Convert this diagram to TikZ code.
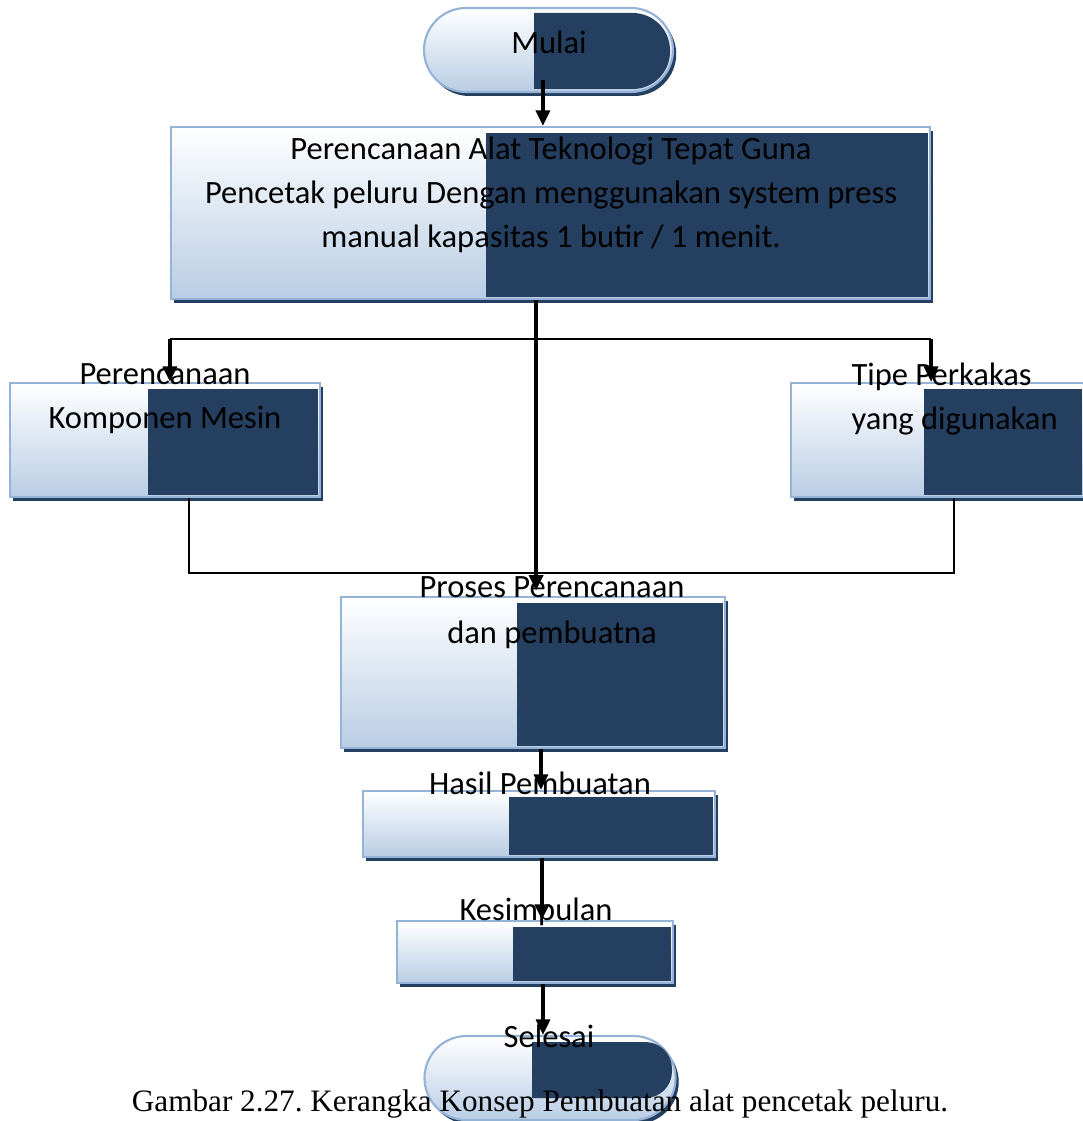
\documentclass[tikz,border=0pt]{standalone}
\usepackage{fontspec}
\setmainfont{Carlito}
\newfontfamily\keterangan{Liberation Serif}
\usetikzlibrary{shapes.misc,shadows,arrows.meta}
\definecolor{garisbiru}{HTML}{95B3D7}
\definecolor{birumuda}{HTML}{B9CDE5}
\definecolor{gelap}{HTML}{243F60}

\begin{document}
\frenchspacing
\begin{tikzpicture}[
	x=0.375pt, y=-0.375pt,
	every node/.style={
		font=\fontsize{12.2}{16.5}\selectfont,
		inner sep=0pt
	},
	ukuran/.style 2 args={minimum width=#1*0.375pt, minimum height=#2*0.375pt},
	kotak/.style={
		draw=garisbiru,
		line width=0.8pt,
		top color=white,
		bottom color=birumuda,
		drop shadow={shadow xshift=1.2pt, shadow yshift=-1.5pt, fill=gelap, opacity=1}
	},
	kapsul/.style={kotak, rounded rectangle},
	tulisan/.style={align=center},
	panah/.style={draw, line width=1.3pt, -{Triangle[length=5.8pt, width=5.2pt]}},
	garis/.style={draw, line width=0.75pt}
]
\useasboundingbox (0,0) rectangle (1082,1121);
\fill[white] (0,0) rectangle (1082,1121);

% kotak-kotak
\node[kapsul, ukuran={249}{84}] (mulai) at (548.5,50) {};
\node[kotak, ukuran={759}{172}] (rencana) at (550.5,213) {};
\node[kotak, ukuran={310}{114}] (komponen) at (165,440) {};
\node[kotak, ukuran={293}{114}] (perkakas) at (937.5,440) {};
\node[kotak, ukuran={384}{151}] (proses) at (533,672.5) {};
\node[kotak, ukuran={352}{66}] (hasil) at (539,824) {};
\node[kotak, ukuran={276}{62}] (simpulan) at (535,952) {};
\node[kapsul, ukuran={251}{84}] (selesai) at (550,1078) {};

% bagian gelap
\begin{scope}
	\clip (534,0) rectangle (700,100);
	\fill[gelap, rounded corners=14pt] (440,13) rectangle (670,89);
\end{scope}
\fill[gelap] (486,133) rectangle (928,297);
\fill[gelap] (148,389) rectangle (318,495);
\fill[gelap] (924,389) rectangle (1082,495);
\fill[gelap] (517,603) rectangle (723,746);
\fill[gelap] (509,797) rectangle (713,855);
\fill[gelap] (513,927) rectangle (671,981);
\begin{scope}
	\clip (532,1000) rectangle (700,1121);
	\fill[gelap, rounded corners=10pt] (440,1042) rectangle (672,1098);
\end{scope}

% teks
\node[tulisan] (tmulai) at (549,42) {Mulai};
\node[tulisan] (trencana) at (551,195) {Perencanaan Alat Teknologi Tepat Guna\\Pencetak peluru Dengan menggunakan system press\\manual kapasitas 1 butir / 1 menit.};
\node[tulisan] (tkomponen) at (165,399) {Perencanaan\\Komponen Mesin};
\node[align=left, anchor=west] (tperkakas) at (851,399) {Tipe Perkakas\\yang digunakan};
\node[tulisan, font=\fontsize{12.2}{17.3}\selectfont] (tproses) at (552,613) {Proses Perencanaan\\dan pembuatna};
\node[tulisan] (thasil) at (540,783) {Hasil Pembuatan};
\node[tulisan] (tsimpulan) at (536,912) {Kesimpulan};
\node[tulisan] (tselesai) at (549,1036) {Selesai};
\node[font=\keterangan\fontsize{11.7}{14}\selectfont] (judul) at (540,1104) {Gambar 2.27. Kerangka Konsep Pembuatan alat pencetak peluru.};

% alur
\coordinate (bagi) at (536,339);
\coordinate (gabung) at (536,573);
\draw[panah] ([xshift=-2.1pt, yshift=5pt]mulai.south) -- ([xshift=-2.1pt]mulai.south |- rencana.north);
\draw[panah, shorten >=2pt] ([xshift=-5.4pt]rencana.south) -- ([xshift=-5.4pt]rencana.south |- proses.north);
\draw[garis] (bagi -| rencana.west) -- (bagi -| rencana.east);
\draw[panah] (bagi -| rencana.west) -- (komponen.north -| rencana.west);
\draw[panah] (bagi -| rencana.east) -- (perkakas.north -| rencana.east);
\draw[garis] ([xshift=9pt]komponen.south) |- (gabung) -| ([xshift=6.2pt]perkakas.south);
\draw[panah] ([xshift=3pt]proses.south) -- ([xshift=3pt]proses.south |- hasil.north);
\draw[panah] ([xshift=1.1pt]hasil.south) -- ([xshift=1.1pt]hasil.south |- simpulan.north);
\draw[panah] ([xshift=3pt]simpulan.south) -- ([xshift=3pt]simpulan.south |- selesai.north);
\end{tikzpicture}
\end{document}
